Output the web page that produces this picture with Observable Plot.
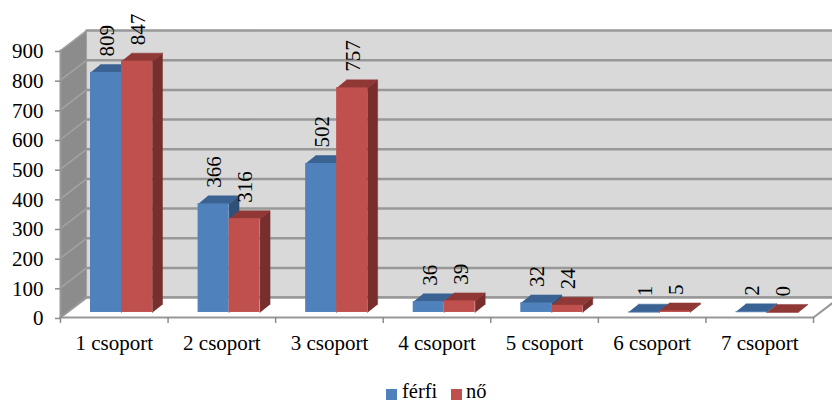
<!DOCTYPE html>
<html lang="hu">
<head>
<meta charset="utf-8">
<style>
html,body{margin:0;padding:0;background:#fff;overflow:hidden}
#legend{position:relative;height:23px;font:20.5px "Liberation Serif",serif;color:#000}
#legend span{position:absolute;line-height:18px;top:2px}
#legend i{position:absolute;width:11px;height:11px;top:9px}
</style>
<script src="https://cdn.jsdelivr.net/npm/d3@7"></script>
<script src="https://cdn.jsdelivr.net/npm/@observablehq/plot@0.6"></script>
</head>
<body>
<div id="chart"></div>
<div id="legend">
  <i style="left:386px;background:#4f81bd"></i><span style="left:402px">férfi</span>
  <i style="left:451px;background:#c0504d"></i><span style="left:466px">nő</span>
</div>
<script>
const categories = ["1 csoport","2 csoport","3 csoport","4 csoport","5 csoport","6 csoport","7 csoport"];
const ferfi = [809,366,502,36,32,1,2];
const no = [847,316,757,39,24,5,0];
const yTicks = [0,100,200,300,400,500,600,700,800,900];

const font = '"Liberation Serif", serif';
const wallDx = 0.242, wallDy = 67;      // depth of the 3D box, in data units
const barDx = 0.093, barDy = 27;        // depth of a bar
const base = 17;                        // bars stand slightly behind the front edge
const barStart = 0.279, barW = 0.288;
const n = categories.length, yMax = 900;

function poly(rows){ // rows: array of [[x,y],...]
  return rows.flatMap((pts,id)=>pts.map(([x,y])=>({x,y,id})));
}
const area = (rows,fill)=>Plot.line(poly(rows),{x:"x",y:"y",z:"id",fill,stroke:fill,strokeWidth:0.5});
const seg = (rows,stroke,strokeWidth)=>Plot.line(poly(rows),{x:"x",y:"y",z:"id",stroke,strokeWidth});

function bars(values,offset,front,top,side){
  const r = values.map((v,i)=>({x1:i+barStart+offset*barW,x2:i+barStart+(offset+1)*barW,v,i}));
  const tops = r.map(d=>[[d.x1,d.v+base],[d.x2,d.v+base],[d.x2+barDx,d.v+base+barDy],[d.x1+barDx,d.v+base+barDy]]);
  const sides = r.map(d=>[[d.x2,base],[d.x2,d.v+base],[d.x2+barDx,d.v+base+barDy],[d.x2+barDx,base+barDy]]);
  return [
    area(sides,side),
    area(tops,top),
    Plot.rectY(r,{x1:"x1",x2:"x2",y1:()=>base,y2:d=>d.v+base,fill:front}),
    Plot.text(r,{x:d=>(d.x1+d.x2)/2+0.01,y:d=>d.v+base+barDy+27,text:d=>String(d.v),rotate:-90,
      textAnchor:"start",lineAnchor:"middle",fontSize:21,fontFamily:font,fill:"#000"})
  ];
}

const chart = Plot.plot({
  width:832,height:380,
  marginLeft:60,marginRight:19,marginTop:50,marginBottom:63,
  x:{domain:[0,n]},
  y:{domain:[0,yMax]},
  style:{background:"#fff"},
  marks:[
    // back wall, left wall, floor
    area([[[wallDx,wallDy],[n+wallDx,wallDy],[n+wallDx,yMax+wallDy],[wallDx,yMax+wallDy]]],"#d9d9d9"),
    area([[[0,0],[wallDx,wallDy],[wallDx,yMax+wallDy],[0,yMax]]],"#8c8c8c"),
    seg(yTicks.map(v=>[[0,v],[wallDx,v+wallDy]]),"#a3a3a3",1.5),
    seg(yTicks.map(v=>[[wallDx,v+wallDy],[n+wallDx,v+wallDy]]),"#989898",2.5),
    area([[[0,0],[n,0],[n+wallDx,wallDy],[wallDx,wallDy]]],"#ffffff"),
    seg([[[wallDx,wallDy],[n+wallDx,wallDy]]],"#989898",2.5),
    seg([[[0,0],[0,yMax]],[[0,0],[n,0]],[[n,0],[n+wallDx,wallDy]],[[0,0],[wallDx,wallDy]]],"#989898",2),
    // bars
    ...bars(ferfi,0,"#4f81bd","#3a6393","#2f5077"),
    ...bars(no,1,"#c0504d","#8f3836","#772e2c"),
    // axes
    Plot.axisY({ticks:yTicks,tickSize:5,tickPadding:12,stroke:"#8c8c8c",strokeWidth:1.5,fontSize:21,fontFamily:font,fill:"#000",label:null,dy:1,tickFormat:d=>String(d)}),
    Plot.axisX({ticks:d3.range(n+1),tickSize:6,stroke:"#8c8c8c",strokeWidth:1.5,tickFormat:()=>"",label:null}),
    Plot.axisX({ticks:categories.map((_,i)=>i+0.5),tickSize:0,tickPadding:18,fontSize:21,fontFamily:font,fill:"#000",label:null,
      tickFormat:d=>categories[Math.floor(d)]})
  ]
});
document.getElementById("chart").appendChild(chart);
</script>
</body>
</html>
